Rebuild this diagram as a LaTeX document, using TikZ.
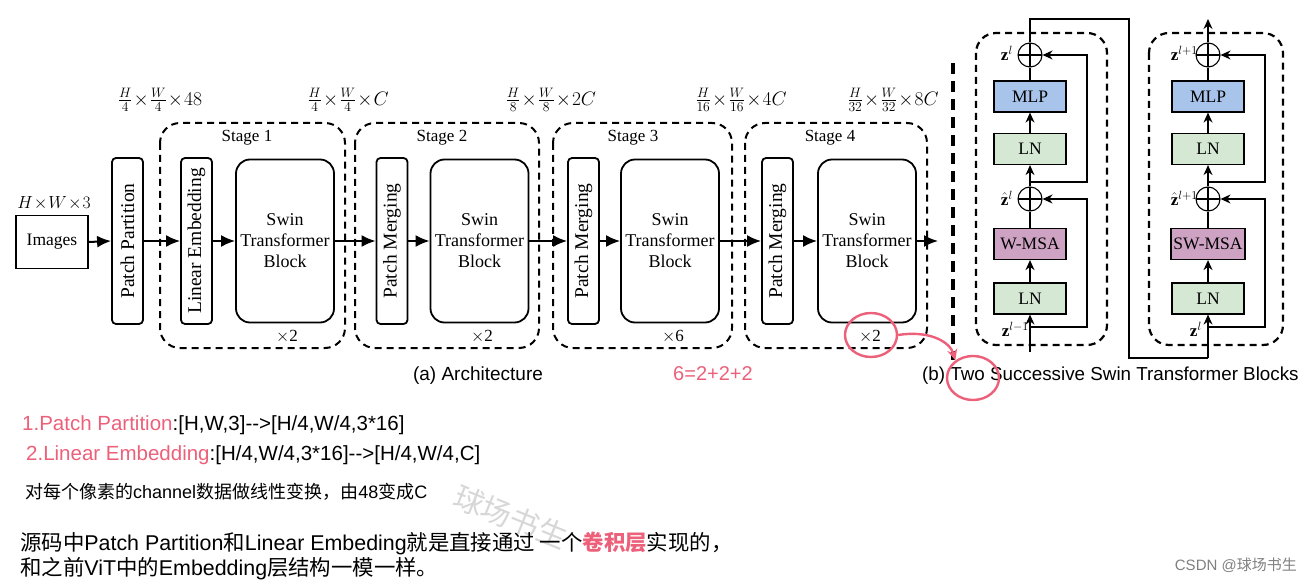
\RequirePackage{fix-cm}
\documentclass[tikz,border=0pt]{standalone}
\usepackage{fontspec}
\usepackage{graphicx}
\setmainfont{Liberation Serif}
\newfontfamily\arial{Liberation Sans}
\newfontfamily\cjk{Noto Sans CJK SC}
\usetikzlibrary{arrows.meta,shapes.geometric}

\definecolor{mlpblue}{RGB}{169,196,235}
\definecolor{lngreen}{RGB}{213,232,212}
\definecolor{msapink}{RGB}{205,162,194}
\definecolor{notered}{RGB}{236,96,122}
\definecolor{wmgray}{RGB}{215,215,215}
\newcommand{\setfs}[1]{\fontsize{#1}{#1}\selectfont}
\newcommand{\tm}{\!\times\!}

\tikzset{
  tallbox/.style={draw, line width=1.8pt, rounded corners=4pt, minimum width=31pt, minimum height=166pt, font=\setfs{19.5}},
  swinbox/.style={draw, line width=1.8pt, rounded corners=14pt, minimum width=98pt, minimum height=163pt, align=center, font=\fontsize{18}{21}\selectfont},
  flatbox/.style={draw, line width=1.8pt, font=\setfs{17.5}},
  stagebox/.style={line width=2pt, dash pattern=on 7pt off 5pt, rounded corners=20pt},
  stagetxt/.style={font=\setfs{17}},
  dimtxt/.style={font=\setfs{19.5}},
  flow/.style={line width=2pt, -{Latex[length=14pt,width=12pt]}},
  lyr/.style={draw, line width=1.2pt, minimum width=72pt, minimum height=31pt, font=\setfs{17.5}},
  addop/.style={draw, circle, line width=1.1pt, minimum size=24pt,
    path picture={\draw[line width=1.1pt] (path picture bounding box.north) -- (path picture bounding box.south)
      (path picture bounding box.west) -- (path picture bounding box.east);}},
  zlab/.style={anchor=east, font=\setfs{17}},
  thin/.style={line width=1.2pt},
  thinflow/.style={line width=1.2pt, -{Stealth[length=10pt,width=9pt]}},
  thickflow/.style={line width=2.2pt, -{Stealth[length=10pt,width=9pt]}},
  hilite/.style={draw=notered, line width=2.4pt, ellipse, minimum width=52pt, minimum height=44pt},
}

\begin{document}
\begin{tikzpicture}[x=1pt,y=-1pt]
\tikzstyle{every node}+=[inner sep=0pt]
\useasboundingbox (0,0) rectangle (1314,585);

% (a) architecture
\node[flatbox, minimum width=72pt, minimum height=53pt] (img) at (52,242) {Images};
\node[font=\setfs{17.5}] (imgsz) at (54,203) {$H\tm W\tm 3$};
\node[tallbox] (pp) at (127.5,241) {\rotatebox{90}{Patch Partition}};

\draw[stagebox] (160,123) rectangle (345,348);
\node[stagetxt] (st1) at (247,138) {Stage 1};
\node[tallbox] (le) at (196.5,241) {\rotatebox{90}{Linear Embedding}};
\node[swinbox] (sw1) at (285,241) {Swin\\Transformer\\Block};
\node[stagetxt] (rep1) at (287,337) {$\times$2};

\draw[stagebox] (355,123) rectangle (539,348);
\node[stagetxt] (st2) at (442,138) {Stage 2};
\node[tallbox] (pm2) at (392,241) {\rotatebox{90}{Patch Merging}};
\node[swinbox] (sw2) at (479.5,241) {Swin\\Transformer\\Block};
\node[stagetxt] (rep2) at (482,337) {$\times$2};

\draw[stagebox] (553,123) rectangle (732,348);
\node[stagetxt] (st3) at (633,138) {Stage 3};
\node[tallbox] (pm3) at (583.5,241) {\rotatebox{90}{Patch Merging}};
\node[swinbox] (sw3) at (670,241) {Swin\\Transformer\\Block};
\node[stagetxt] (rep3) at (673,337) {$\times$6};

\draw[stagebox] (745,123) rectangle (927,348);
\node[stagetxt] (st4) at (830,138) {Stage 4};
\node[tallbox] (pm4) at (777.5,241) {\rotatebox{90}{Patch Merging}};
\node[swinbox] (sw4) at (867,241) {Swin\\Transformer\\Block};
\node[stagetxt] (rep4) at (870,337) {$\times$2};
\coordinate (aout) at (938,241);

\draw[flow] (img.east) -- (pp.west);
\draw[flow] (pp.east) -- (le.west);
\draw[flow] (le.east) -- (sw1.west);
\draw[flow] (sw1.east) -- (pm2.west);
\draw[flow] (pm2.east) -- (sw2.west);
\draw[flow] (sw2.east) -- (pm3.west);
\draw[flow] (pm3.east) -- (sw3.west);
\draw[flow] (sw3.east) -- (pm4.west);
\draw[flow] (pm4.east) -- (sw4.west);
\draw[flow] (sw4.east) -- (aout);

\node[dimtxt] (d0) at (160,100) {$\frac{H}{4}\tm\frac{W}{4}\tm 48$};
\node[dimtxt] (d1) at (348,100) {$\frac{H}{4}\tm\frac{W}{4}\tm C$};
\node[dimtxt] (d2) at (551,100) {$\frac{H}{8}\tm\frac{W}{8}\tm 2C$};
\node[dimtxt] (d3) at (741,100) {$\frac{H}{16}\tm\frac{W}{16}\tm 4C$};
\node[dimtxt] (d4) at (893,100) {$\frac{H}{32}\tm\frac{W}{32}\tm 8C$};

\draw[line width=3.5pt, dash pattern=on 11pt off 7pt] (953,63) -- (953,360);

% (b) two successive blocks
\draw[stagebox, line width=2.2pt] (976,33) rectangle (1107,345);
\node[addop] (adda1) at (1030,55) {};
\node[lyr, fill=mlpblue] (mlpa) at (1030,96.5) {MLP};
\node[lyr, fill=lngreen] (lna2) at (1030,149) {LN};
\node[addop] (adda2) at (1030,199) {};
\node[lyr, fill=msapink] (msaa) at (1030,244) {W-MSA};
\node[lyr, fill=lngreen] (lna1) at (1030,298.5) {LN};
\node[zlab] (za1) at (1013,53) {$\mathbf{z}^{l}$};
\node[zlab] (za2) at (1013,198) {$\hat{\mathbf{z}}^{l}$};
\node[zlab] (za0) at (1029,329) {$\mathbf{z}^{l-1}$};
\coordinate (ina) at (1030,352);
\coordinate (ra1) at (1030,327);
\coordinate (ra1r) at (1087,327);
\coordinate (ra2) at (1030,182);
\coordinate (ra2r) at (1087,182);

\draw[thinflow] (ina) -- (lna1.south);
\draw[thickflow] (lna1.north) -- (msaa.south);
\draw[thin] (msaa.north) -- (adda2.south);
\draw[thinflow] (adda2.north) -- (lna2.south);
\draw[thinflow] (lna2.north) -- (mlpa.south);
\draw[thin] (mlpa.north) -- (adda1.south);
\draw[thinflow] (ra1) -- (ra1r) |- (adda2.east);
\draw[thinflow] (ra2) -- (ra2r) |- (adda1.east);

\draw[stagebox, line width=2.2pt] (1149,33) rectangle (1283,345);
\node[addop] (addb1) at (1208,55) {};
\node[lyr, fill=mlpblue] (mlpb) at (1208,96.5) {MLP};
\node[lyr, fill=lngreen] (lnb2) at (1208,149) {LN};
\node[addop] (addb2) at (1208,199) {};
\node[lyr, fill=msapink, minimum width=74pt] (msab) at (1208,244) {SW-MSA};
\node[lyr, fill=lngreen] (lnb1) at (1208,298.5) {LN};
\node[zlab] (zb1) at (1198,53) {$\mathbf{z}^{l+1}$};
\node[zlab] (zb2) at (1198,198) {$\hat{\mathbf{z}}^{l+1}$};
\node[zlab] (zb0) at (1202,329) {$\mathbf{z}^{l}$};
\coordinate (lk1) at (1129,19);
\coordinate (lk2) at (1208,358);
\coordinate (rb1) at (1208,327);
\coordinate (rb1r) at (1265,327);
\coordinate (rb2) at (1208,182);
\coordinate (rb2r) at (1265,182);
\coordinate (outb) at (1208,19);

\draw[thin] (adda1.north) |- (lk1) |- (lk2);
\draw[thinflow] (lk2) -- (lnb1.south);
\draw[thickflow] (lnb1.north) -- (msab.south);
\draw[thin] (msab.north) -- (addb2.south);
\draw[thinflow] (addb2.north) -- (lnb2.south);
\draw[thinflow] (lnb2.north) -- (mlpb.south);
\draw[thin] (mlpb.north) -- (addb1.south);
\draw[thinflow] (rb1) -- (rb1r) |- (addb2.east);
\draw[thinflow] (rb2) -- (rb2r) |- (addb1.east);
\draw[thinflow] (addb1.north) -- (outb);

% captions
\node[font=\arial\setfs{19}] (capa) at (478,376) {(a) Architecture};
\node[font=\arial\setfs{20}, text=notered] (sum) at (713,374) {6=2+2+2};
\node[anchor=west, font=\arial\setfs{18.8}] (capb) at (922,376) {(b) Two Successive Swin Transformer Blocks};

% notes
\node[hilite] (mk4) at (871,335) {};
\node[hilite] (mkb) at (973,378) {};
\draw[draw=notered, line width=2.4pt, -{Stealth[length=11pt,width=10pt]}] (mk4.east) .. controls (930,330) and (950,342) .. (mkb.135);

\node[anchor=west, font=\arial\setfs{20.5}] (t1) at (22,425) {\textcolor{notered}{1.Patch Partition}:[H,W,3]-{}->[H/4,W/4,3*16]};
\node[anchor=west, font=\arial\setfs{20.5}] (t2) at (26,455) {\textcolor{notered}{2.Linear Embedding}:[H/4,W/4,3*16]-{}->[H/4,W/4,C]};
\node[anchor=west, font=\arial\setfs{18}] (t3) at (25,492) {{\cjk 对每个像素的}channel{\cjk 数据做线性变换，由}48{\cjk 变成}C};
\node[rotate=-22, text=wmgray, font=\cjk\setfs{30}] (wm) at (511,517) {球场书生};
\node[anchor=west, font=\arial\setfs{21.4}] (t4) at (20,543) {{\cjk 源码中}Patch Partition{\cjk 和}Linear Embeding{\cjk 就是直接通过 一个}{\cjk\bfseries\color{notered}卷积层}{\cjk 实现的，}};
\node[anchor=west, font=\arial\setfs{21.4}] (t5) at (20,569) {{\cjk 和之前}ViT{\cjk 中的}Embedding{\cjk 层结构一模一样。}};
\node[anchor=east, text=gray, font=\arial\setfs{15}] (csdn) at (1297,565) {CSDN @{\cjk 球场书生}};
\end{tikzpicture}
\end{document}
